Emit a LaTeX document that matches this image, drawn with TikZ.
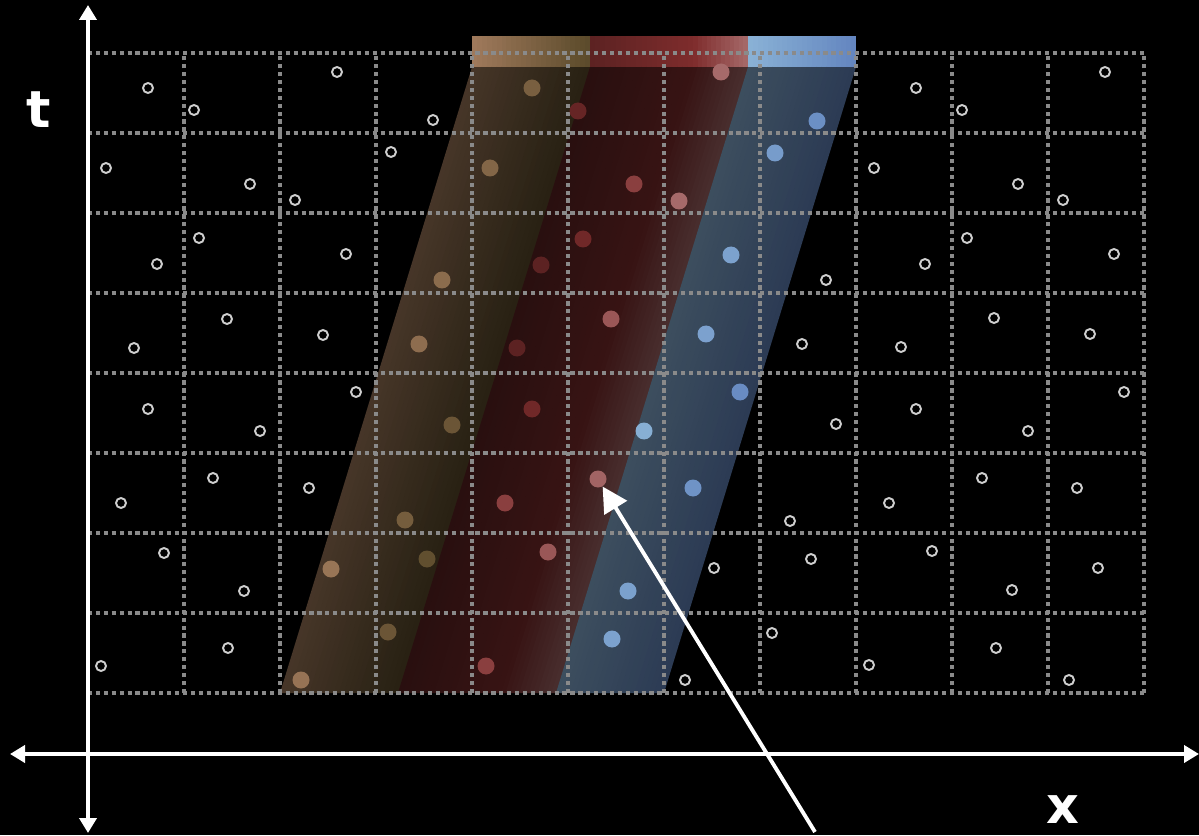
\documentclass[tikz,border=0pt]{standalone}
\usepackage{fontspec}
\setmainfont{DejaVu Sans}
\usepackage{xcolor}
\usepackage{tikz}
\usetikzlibrary{arrows.meta}
\definecolor{BarBrA}{HTML}{A07A5C}
\definecolor{BarBrB}{HTML}{5A4A2A}
\definecolor{BarRdA}{HTML}{5C2222}
\definecolor{BarRdM}{HTML}{7E2C2C}
\definecolor{BarRdB}{HTML}{A66A6A}
\definecolor{BarBlA}{HTML}{8AB2D6}
\definecolor{BarBlB}{HTML}{6385BF}
\definecolor{GridGray}{HTML}{8A8A8A}
\definecolor{RingGray}{HTML}{CFCFCF}
% one colour part of the slanted band and of the bar above it
\newcommand{\bandpart}[5]{%
  \foreach \k in {1,...,#5}{%
    \pgfmathsetmacro{\sa}{#1+(#2-#1)*(\k-1)/#5}%
    \pgfmathsetmacro{\sb}{min(7.68,#1+(#2-#1)*\k/#5+0.012)}%
    \pgfmathtruncatemacro{\pc}{100*(\k-0.5)/#5}%
    \colorlet{stripcol}{#4!\pc!#3}%
    \fill[stripcol!44!black] (5.60+\sa,2.84) -- (5.60+\sb,2.84) -- (9.44+\sb,15.36) -- (9.44+\sa,15.36) -- cycle;
    \fill[stripcol] (9.44+\sa,15.36) rectangle (9.44+\sb,15.98);
  }}

\begin{document}
\begin{tikzpicture}[x=1cm,y=1cm,
  gridline/.style={GridGray,line width=2.5pt,dash pattern=on 2.4pt off 2.1pt},
  ringdot/.style={RingGray,line width=1.1pt},
  axisline/.style={white,line width=2.3pt,{Triangle[length=0.3cm,width=0.34cm]}-{Triangle[length=0.3cm,width=0.34cm]}},
  pointer/.style={white,line width=2.2pt,-{Triangle[length=0.5cm,width=0.52cm]}},
  axislabel/.style={white,anchor=base,inner sep=0pt,font=\fontsize{29}{29}\selectfont\bfseries}]
\path[use as bounding box] (0,0) rectangle (23.98,16.70);
\fill[black] (0,0) rectangle (23.98,16.70);
% band and bar
\bandpart{0}{2.36}{BarBrA}{BarBrB}{24}
\bandpart{2.36}{4.42}{BarRdA}{BarRdM}{20}
\bandpart{4.42}{5.52}{BarRdM}{BarRdB}{12}
\bandpart{5.52}{7.68}{BarBlA}{BarBlB}{22}
% grid
\foreach \gx in {0,...,11}
  \draw[gridline] ({1.76+1.92*\gx},2.84) -- ++(0,12.80);
\foreach \gy in {0,...,8}
  \draw[gridline] (1.76,{2.84+1.60*\gy}) -- ++(21.12,0);
% empty cells
\draw[ringdot] (2.96,14.94) circle (0.1);
\draw[ringdot] (3.88,14.50) circle (0.1);
\draw[ringdot] (6.74,15.26) circle (0.1);
\draw[ringdot] (8.66,14.30) circle (0.1);
\draw[ringdot] (18.32,14.94) circle (0.1);
\draw[ringdot] (19.24,14.50) circle (0.1);
\draw[ringdot] (22.10,15.26) circle (0.1);
\draw[ringdot] (2.12,13.34) circle (0.1);
\draw[ringdot] (5.00,13.02) circle (0.1);
\draw[ringdot] (5.90,12.70) circle (0.1);
\draw[ringdot] (7.82,13.66) circle (0.1);
\draw[ringdot] (17.48,13.34) circle (0.1);
\draw[ringdot] (20.36,13.02) circle (0.1);
\draw[ringdot] (21.26,12.70) circle (0.1);
\draw[ringdot] (3.14,11.42) circle (0.1);
\draw[ringdot] (3.98,11.94) circle (0.1);
\draw[ringdot] (6.92,11.62) circle (0.1);
\draw[ringdot] (16.52,11.10) circle (0.1);
\draw[ringdot] (18.50,11.42) circle (0.1);
\draw[ringdot] (19.34,11.94) circle (0.1);
\draw[ringdot] (22.28,11.62) circle (0.1);
\draw[ringdot] (2.68,9.74) circle (0.1);
\draw[ringdot] (4.54,10.32) circle (0.1);
\draw[ringdot] (6.46,10.00) circle (0.1);
\draw[ringdot] (16.04,9.82) circle (0.1);
\draw[ringdot] (18.02,9.76) circle (0.1);
\draw[ringdot] (19.88,10.34) circle (0.1);
\draw[ringdot] (21.80,10.02) circle (0.1);
\draw[ringdot] (2.96,8.52) circle (0.1);
\draw[ringdot] (5.20,8.08) circle (0.1);
\draw[ringdot] (7.12,8.86) circle (0.1);
\draw[ringdot] (16.72,8.22) circle (0.1);
\draw[ringdot] (18.32,8.52) circle (0.1);
\draw[ringdot] (20.56,8.08) circle (0.1);
\draw[ringdot] (22.48,8.86) circle (0.1);
\draw[ringdot] (2.42,6.64) circle (0.1);
\draw[ringdot] (4.26,7.14) circle (0.1);
\draw[ringdot] (6.18,6.94) circle (0.1);
\draw[ringdot] (15.80,6.28) circle (0.1);
\draw[ringdot] (17.78,6.64) circle (0.1);
\draw[ringdot] (19.64,7.14) circle (0.1);
\draw[ringdot] (21.54,6.94) circle (0.1);
\draw[ringdot] (3.28,5.64) circle (0.1);
\draw[ringdot] (4.88,4.88) circle (0.1);
\draw[ringdot] (14.28,5.34) circle (0.1);
\draw[ringdot] (16.22,5.52) circle (0.1);
\draw[ringdot] (18.64,5.68) circle (0.1);
\draw[ringdot] (20.24,4.90) circle (0.1);
\draw[ringdot] (21.96,5.34) circle (0.1);
\draw[ringdot] (2.02,3.38) circle (0.1);
\draw[ringdot] (4.56,3.74) circle (0.1);
\draw[ringdot] (13.70,3.10) circle (0.1);
\draw[ringdot] (15.44,4.04) circle (0.1);
\draw[ringdot] (17.38,3.40) circle (0.1);
\draw[ringdot] (19.92,3.74) circle (0.1);
\draw[ringdot] (21.38,3.10) circle (0.1);
% cells inside the band
\fill[BarBrB!56!BarBrA] (10.64,14.94) circle (0.17);
\fill[BarRdM!30!BarRdA] (11.56,14.48) circle (0.17);
\fill[BarRdB] (14.42,15.26) circle (0.17);
\fill[BarBlB!79!BarBlA] (16.34,14.28) circle (0.17);
\fill[BarBrB!42!BarBrA] (9.80,13.34) circle (0.17);
\fill[BarRdB!30!BarRdM] (12.68,13.02) circle (0.17);
\fill[BarRdB] (13.58,12.68) circle (0.17);
\fill[BarBlB!49!BarBlA] (15.50,13.64) circle (0.17);
\fill[BarBrB!30!BarBrA] (8.84,11.10) circle (0.17);
\fill[BarRdA] (10.82,11.40) circle (0.17);
\fill[BarRdM!60!BarRdA] (11.66,11.92) circle (0.17);
\fill[BarBlB!36!BarBlA] (14.62,11.60) circle (0.17);
\fill[BarBrB!26!BarBrA] (8.38,9.82) circle (0.17);
\fill[BarRdA] (10.34,9.74) circle (0.17);
\fill[BarRdB!70!BarRdM] (12.22,10.32) circle (0.17);
\fill[BarBlB!37!BarBlA] (14.12,10.02) circle (0.17);
\fill[BarBrB!76!BarBrA] (9.04,8.20) circle (0.17);
\fill[BarRdM!60!BarRdA] (10.64,8.52) circle (0.17);
\fill[BarBlB!7!BarBlA] (12.88,8.08) circle (0.17);
\fill[BarBlB!85!BarBlA] (14.80,8.86) circle (0.17);
\fill[BarBrB!61!BarBrA] (8.10,6.30) circle (0.17);
\fill[BarRdB!30!BarRdM] (10.10,6.64) circle (0.17);
\node[circle,fill=BarRdB!90!BarRdM,minimum size=0.34cm,inner sep=0pt] (hitdot) at (11.96,7.12) {};
\fill[BarBlB!69!BarBlA] (13.86,6.94) circle (0.17);
\fill[BarBrB!11!BarBrA] (6.62,5.32) circle (0.17);
\fill[BarBrB!90!BarBrA] (8.54,5.52) circle (0.17);
\fill[BarRdB!70!BarRdM] (10.96,5.66) circle (0.17);
\fill[BarBlB!38!BarBlA] (12.56,4.88) circle (0.17);
\fill[BarBrB!14!BarBrA] (6.02,3.10) circle (0.17);
\fill[BarBrB!76!BarBrA] (7.76,4.06) circle (0.17);
\fill[BarRdB!30!BarRdM] (9.72,3.38) circle (0.17);
\fill[BarBlB!36!BarBlA] (12.24,3.92) circle (0.17);
% axes
\coordinate (xleft) at (0.20,1.62);
\coordinate (xright) at (23.98,1.62);
\coordinate (tbottom) at (1.76,0.04);
\coordinate (ttop) at (1.76,16.60);
\draw[axisline] (xleft) -- (xright);
\draw[axisline] (tbottom) -- (ttop);
\node[axislabel] (tlabel) at (0.78,14.14) {t};
\node[axislabel] (xlabel) at (21.26,0.24) {x};
% pointer
\coordinate (pointerfoot) at (16.30,0.06);
\draw[pointer] (pointerfoot) -- (hitdot);
\end{tikzpicture}
\end{document}
